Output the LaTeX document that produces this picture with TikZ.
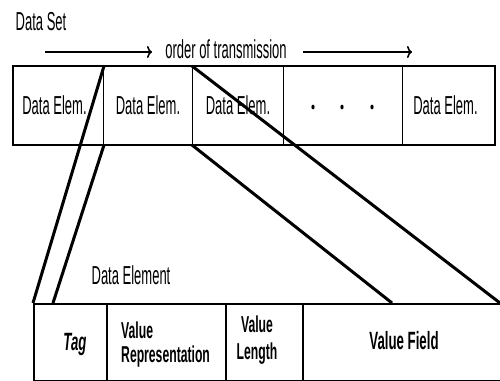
\documentclass[tikz,border=0pt]{standalone}
\usepackage{fontspec}
\setmainfont{Liberation Sans}
\newfontfamily\cf[FakeStretch=0.5]{Liberation Sans}
\newfontfamily\cfb[FakeStretch=0.53]{Liberation Sans}
\usetikzlibrary{arrows.meta}
\begin{document}
\begin{tikzpicture}[x=1pt,y=-1pt,
  topcell/.style={draw,line width=1pt,minimum height=78pt,inner sep=0pt,anchor=north west,font=\cf\fontsize{26}{28}\selectfont},
  botcell/.style={draw,line width=1.8pt,minimum height=77pt,inner sep=0pt,anchor=north west},
  link/.style={line width=3pt},
  lbl/.style={font=\cf\fontsize{26}{28}\selectfont,inner sep=0pt},
  blbl/.style={font=\cfb\bfseries\fontsize{23}{24}\selectfont,inner sep=0pt},
  arr/.style={line width=2pt,-{To[length=5pt,width=12pt,line width=1.6pt]}}]
\path[use as bounding box] (0,0) rectangle (500,380);
\clip (0,0) rectangle (500,380);
\fill[white] (0,0) rectangle (500,380);
% top row
\node[topcell,minimum width=90pt] (t1) at (13,66) {\hspace*{-8pt}Data Elem.};
\node[topcell,minimum width=89pt] (t2) at (103,66) {Data Elem.};
\node[topcell,minimum width=91pt] (t3) at (192,66) {Data Elem.};
\node[topcell,minimum width=119pt] (t4) at (283,66) {};
\node[topcell,minimum width=92pt] (t5) at (402,66) {\hspace*{-6pt}Data Elem.};
\draw[line width=2.5pt] (t1.north west) -- (t5.north east) -- (t5.south east) -- (t1.south west) -- cycle;
\foreach \x in {313,342,372} \fill (\x,107) ellipse (1.6pt and 2.4pt);
% labels
\node[lbl] (ds) at (41,22) {Data Set};
\node[lbl] (ot) at (226,49) {order of transmission};
\coordinate (a1s) at (45,52);
\coordinate (a1e) at (152,52);
\coordinate (a2s) at (303,52);
\coordinate (a2e) at (412,52);
\draw[arr] (a1s) -- (a1e);
\draw[arr] (a2s) -- (a2e);
% bottom row
\node[botcell,minimum width=73pt] (b1) at (33,303) {};
\node[botcell,minimum width=119pt] (b2) at (106,303) {};
\node[botcell,minimum width=77pt] (b3) at (225,303) {};
\node[botcell,minimum width=210pt] (b4) at (302,303) {};
\node[blbl,font=\cfb\bfseries\itshape\fontsize{25}{26}\selectfont] (tag) at (75,344) {Tag};
\node[blbl,anchor=west,align=left] (vr) at (121,345) {Value\\Representation};
\node[blbl,align=center,font=\cfb\bfseries\fontsize{23}{27}\selectfont] (vl) at (257,340) {Value\\Length};
\node[blbl,font=\cfb\bfseries\fontsize{25}{26}\selectfont] (vf) at (404,341) {Value Field};
\node[lbl] (de) at (131,275) {Data Element};
% connectors
\coordinate (bB) at (53,303);
\coordinate (bC) at (500,303);
\coordinate (bD) at (392,303);
\draw[link] (t1.north east) -- (b1.north west);
\draw[link] (t1.south east) -- (bB);
\draw[link] (t3.north west) -- (bC);
\draw[link] (t3.south west) -- (bD);
\end{tikzpicture}
\end{document}
